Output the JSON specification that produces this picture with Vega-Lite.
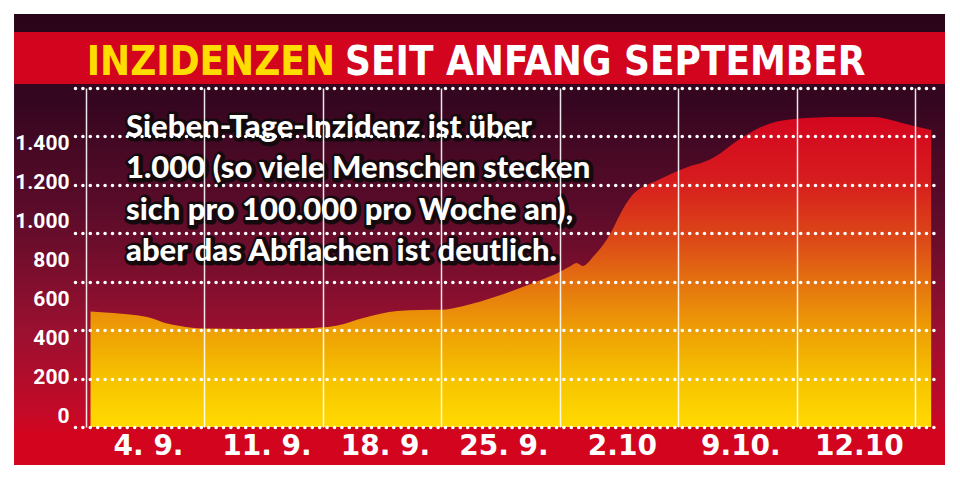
{
  "$schema": "https://vega.github.io/schema/vega-lite/v6.json",
  "width": 864,
  "height": 339,
  "autosize": "none",
  "padding": {"left": 75, "top": 88, "right": 21, "bottom": 53},
  "config": {"view": {"stroke": null}, "background": "#ffffff"},
  "datasets": {
    "inzidenz": [
      {"t": 0.038, "wert": 477},
      {"t": 0.228, "wert": 471},
      {"t": 0.516, "wert": 454},
      {"t": 0.668, "wert": 430},
      {"t": 0.795, "wert": 417},
      {"t": 0.989, "wert": 407},
      {"t": 1.361, "wert": 405},
      {"t": 1.724, "wert": 407},
      {"t": 1.919, "wert": 409},
      {"t": 2.122, "wert": 419},
      {"t": 2.341, "wert": 450},
      {"t": 2.629, "wert": 479},
      {"t": 2.823, "wert": 483},
      {"t": 2.992, "wert": 484},
      {"t": 3.187, "wert": 500},
      {"t": 3.474, "wert": 541},
      {"t": 3.753, "wert": 591},
      {"t": 3.981, "wert": 636},
      {"t": 4.091, "wert": 665},
      {"t": 4.142, "wert": 677},
      {"t": 4.193, "wert": 665},
      {"t": 4.286, "wert": 706},
      {"t": 4.429, "wert": 801},
      {"t": 4.514, "wert": 884},
      {"t": 4.598, "wert": 950},
      {"t": 4.683, "wert": 987},
      {"t": 4.793, "wert": 1012},
      {"t": 4.937, "wert": 1045},
      {"t": 5.08, "wert": 1074},
      {"t": 5.215, "wert": 1094},
      {"t": 5.359, "wert": 1132},
      {"t": 5.469, "wert": 1173},
      {"t": 5.587, "wert": 1210},
      {"t": 5.697, "wert": 1239},
      {"t": 5.976, "wert": 1272},
      {"t": 6.374, "wert": 1280},
      {"t": 6.653, "wert": 1280},
      {"t": 6.855, "wert": 1260},
      {"t": 6.99, "wert": 1243},
      {"t": 7.134, "wert": 1227}
    ],
    "notiz": [
      {"text": "Sieben-Tage-Inzidenz ist über\n1.000 (so viele Menschen stecken\nsich pro 100.000 pro Woche an),\naber das Abflachen ist deutlich."}
    ],
    "titel1": [{"text": "INZIDENZEN"}],
    "titel2": [{"text": "SEIT ANFANG SEPTEMBER"}]
  },
  "layer": [
    {
      "layer": [
        {
          "data": {"values": [{}]},
          "mark": {
            "type": "rect",
            "fill": {
              "gradient": "linear", "x1": 0, "y1": 0, "x2": 0, "y2": 1,
              "stops": [
                {"offset": 0, "color": "#2a0418"},
                {"offset": 0.2, "color": "#360620"},
                {"offset": 0.45, "color": "#5e0c2a"},
                {"offset": 0.7, "color": "#9a1030"},
                {"offset": 0.88, "color": "#c20a28"},
                {"offset": 0.93, "color": "#d2041e"},
                {"offset": 1, "color": "#d2041e"}
              ]
            }
          },
          "encoding": {
            "x": {"datum": -0.6077, "type": "quantitative"},
            "x2": {"datum": 7.2507},
            "y": {"datum": 1705.6, "type": "quantitative"},
            "y2": {"datum": -156.9}
          }
        },
        {
          "data": {"values": [{}]},
          "mark": {"type": "rect", "fill": "#d2041e"},
          "encoding": {
            "x": {"datum": -0.6077, "type": "quantitative"},
            "x2": {"datum": 7.2507},
            "y": {"datum": 1631.3, "type": "quantitative"},
            "y2": {"datum": 1416.5}
          }
        },
        {
          "data": {"name": "titel1"},
          "mark": {
            "type": "text", "align": "right", "baseline": "alphabetic",
            "font": "DejaVu Sans Condensed", "fontWeight": "bold", "fontSize": 40,
            "fill": "#ffdd00"
          },
          "encoding": {
            "x": {"datum": 2.1018, "type": "quantitative"},
            "y": {"datum": 1453.0, "type": "quantitative"},
            "text": {"field": "text"}
          }
        },
        {
          "data": {"name": "titel2"},
          "mark": {
            "type": "text", "align": "left", "baseline": "alphabetic",
            "font": "DejaVu Sans Condensed", "fontWeight": "bold", "fontSize": 40,
            "fill": "#ffffff"
          },
          "encoding": {
            "x": {"datum": 2.1862, "type": "quantitative"},
            "y": {"datum": 1453.0, "type": "quantitative"},
            "text": {"field": "text"}
          }
        },
        {
          "data": {"name": "inzidenz"},
          "mark": {
            "type": "area",
            "interpolate": "monotone",
            "fill": {
              "gradient": "linear", "x1": 0, "y1": 0, "x2": 0, "y2": 1,
              "stops": [
                {"offset": 0, "color": "#d4061f"},
                {"offset": 0.2, "color": "#d61c1e"},
                {"offset": 0.4, "color": "#dc4a17"},
                {"offset": 0.56, "color": "#e67a0e"},
                {"offset": 0.69, "color": "#eea005"},
                {"offset": 0.85, "color": "#f7c400"},
                {"offset": 1, "color": "#ffda00"}
              ]
            }
          },
          "encoding": {
            "x": {
              "field": "t", "type": "quantitative",
              "scale": {"domain": [-0.093, 7.2], "nice": false, "zero": false},
              "axis": {
                "values": [0, 1, 2, 3, 4, 5, 6, 7],
                "grid": true, "gridColor": "#ffffff", "gridWidth": 1.5, "gridOpacity": 0.9,
                "domain": false, "ticks": false, "title": null,
                "labelExpr": "['4. 9.','11. 9.','18. 9.','25. 9.','2.10','9.10.','12.10',''][datum.value]",
                "labelOffset": 62, "labelPadding": 5,
                "labelFont": "DejaVu Sans", "labelFontWeight": "bold", "labelFontSize": 28,
                "labelColor": "#ffffff", "labelBound": false, "labelFlush": false, "labelOverlap": false,
                "zindex": 1
              }
            },
            "y": {
              "field": "wert", "type": "quantitative",
              "scale": {"domain": [0, 1400], "nice": false, "zero": true},
              "axis": {
                "values": [0, 200, 400, 600, 800, 1000, 1200, 1400],
                "grid": true, "gridColor": "#ffffff", "gridWidth": 3.6,
                "gridDash": [0, 7.4], "gridCap": "round",
                "labels": false, "ticks": false, "domain": false, "title": null,
                "zindex": 1
              }
            }
          }
        },
        {
          "data": {"name": "notiz"},
          "mark": {
            "type": "text", "align": "left", "baseline": "alphabetic",
            "font": "Lato", "fontWeight": 900, "fontSize": 31, "lineHeight": 41.3,
            "lineBreak": "\n", "fill": "#140a0e", "stroke": "#140a0e", "strokeWidth": 7,
            "strokeJoin": "round", "dx": 1, "dy": 1
          },
          "encoding": {
            "x": {"datum": 0.3376, "type": "quantitative"},
            "y": {"datum": 1197.6, "type": "quantitative"},
            "text": {"field": "text"}
          }
        },
        {
          "data": {"name": "notiz"},
          "mark": {
            "type": "text", "align": "left", "baseline": "alphabetic",
            "font": "Lato", "fontWeight": 900, "fontSize": 31, "lineHeight": 41.3,
            "lineBreak": "\n", "fill": "#ffffff"
          },
          "encoding": {
            "x": {"datum": 0.3376, "type": "quantitative"},
            "y": {"datum": 1197.6, "type": "quantitative"},
            "text": {"field": "text"}
          }
        }
      ]
    },
    {
      "data": {"values": [{}]},
      "mark": {"type": "rule", "opacity": 0},
      "encoding": {
        "y": {
          "datum": 0, "type": "quantitative",
          "scale": {"domain": [-51.1, 1681.1], "nice": false, "zero": false},
          "axis": {
            "orient": "left",
            "values": [0, 200, 400, 600, 800, 1000, 1200, 1400],
            "labelExpr": "replace(format(datum.value, ','), ',', '.')",
            "labelFont": "Roboto", "labelFontWeight": "bold",
            "labelFontSize": 21, "labelColor": "#ffffff", "labelPadding": 6,
            "ticks": false, "domain": false, "grid": false, "title": null,
            "zindex": 1
          }
        }
      }
    }
  ],
  "resolve": {"scale": {"y": "independent"}, "axis": {"y": "independent"}}
}
